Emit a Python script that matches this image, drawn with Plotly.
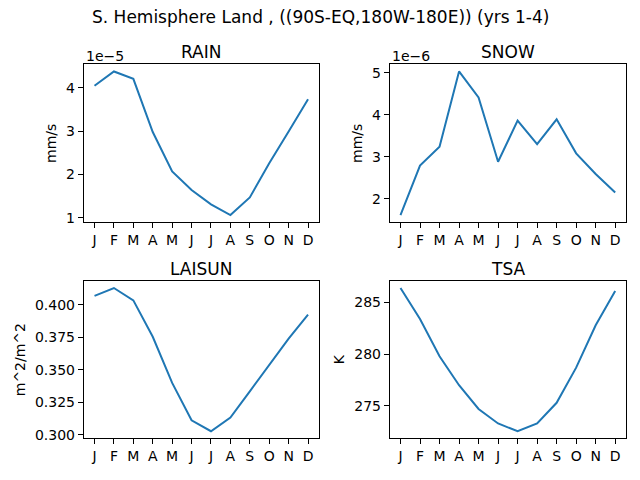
import plotly.graph_objects as go

months = ["J", "F", "M", "A", "M", "J", "J", "A", "S", "O", "N", "D"]

rain = [4.05e-5, 4.38e-5, 4.21e-5, 2.98e-5, 2.07e-5, 1.64e-5,
        1.31e-5, 1.06e-5, 1.47e-5, 2.26e-5, 2.99e-5, 3.74e-5]
snow = [1.61e-6, 2.79e-6, 3.24e-6, 5.03e-6, 4.41e-6, 2.88e-6,
        3.86e-6, 3.30e-6, 3.89e-6, 3.08e-6, 2.59e-6, 2.15e-6]
laisun = [0.4069, 0.4130, 0.4035, 0.3755, 0.3400, 0.3112,
          0.3028, 0.3133, 0.3335, 0.3535, 0.3740, 0.3925]
tsa = [286.4, 283.4, 279.8, 277.0, 274.7, 273.3,
       272.55, 273.3, 275.3, 278.7, 282.8, 286.1]

rain_ticks = [1, 2, 3, 4]
snow_ticks = [2, 3, 4, 5]
lai_ticks = [0.300, 0.325, 0.350, 0.375, 0.400]
tsa_ticks = [275, 280, 285]

FONT = "DejaVu Sans"
BLUE = "#1f77b4"


def pad(v):
    lo, hi = min(v), max(v)
    m = (hi - lo) * 0.05
    return [lo - m, hi + m]


panels = [
    # name, data, ylabel, tickvals, ticktext, exponent, xdomain, ydomain
    ("RAIN", rain, "mm/s", [t * 1e-5 for t in rain_ticks], [str(t) for t in rain_ticks], "1e\u22125",
     [0.131, 0.498], [0.533, 0.865]),
    ("SNOW", snow, "mm/s", [t * 1e-6 for t in snow_ticks], [str(t) for t in snow_ticks], "1e\u22126",
     [0.609, 0.978], [0.533, 0.865]),
    ("LAISUN", laisun, "m^2/m^2", lai_ticks, ["%.3f" % t for t in lai_ticks], None,
     [0.131, 0.498], [0.079, 0.410]),
    ("TSA", tsa, "K", tsa_ticks, [str(t) for t in tsa_ticks], None,
     [0.609, 0.978], [0.079, 0.410]),
]

fig = go.Figure()
annotations = []
layout = {}
for i, (name, vals, ylab, tv, tt, expo, xd, yd) in enumerate(panels):
    n = "" if i == 0 else str(i + 1)
    fig.add_trace(go.Scatter(x=list(range(12)), y=vals, mode="lines",
                             line=dict(color=BLUE, width=2),
                             xaxis="x" + n, yaxis="y" + n, showlegend=False))
    axcommon = dict(showline=True, mirror=True, linecolor="black", linewidth=1,
                    ticks="outside", ticklen=5, tickwidth=1, tickcolor="black",
                    showgrid=False, zeroline=False,
                    tickfont=dict(family=FONT, size=14, color="black"))
    layout["xaxis" + n] = dict(domain=xd, anchor="y" + n, range=[-0.55, 11.55],
                               tickvals=list(range(12)), ticktext=months, **axcommon)
    layout["yaxis" + n] = dict(domain=yd, anchor="x" + n, range=pad(vals),
                               tickvals=tv, ticktext=tt,
                               title=dict(text=ylab, standoff=6,
                                          font=dict(family=FONT, size=14, color="black")),
                               **axcommon)
    annotations.append(dict(text=name, x=(xd[0] + xd[1]) / 2, y=yd[1], xref="paper", yref="paper",
                            xanchor="center", yanchor="bottom", yshift=0, showarrow=False,
                            font=dict(family=FONT, size=17, color="black")))
    if expo:
        annotations.append(dict(text=expo, x=xd[0], y=yd[1], xref="paper", yref="paper",
                                xanchor="left", yanchor="bottom", yshift=-2, showarrow=False,
                                font=dict(family=FONT, size=14, color="black")))

annotations.append(dict(text="S. Hemisphere Land , ((90S-EQ,180W-180E)) (yrs 1-4)",
                        x=0.5, y=1 - 17 / 480, xref="paper", yref="paper",
                        xanchor="center", yanchor="middle", showarrow=False,
                        font=dict(family=FONT, size=17, color="black")))

fig.update_layout(width=640, height=480, margin=dict(l=0, r=0, t=0, b=0),
                  paper_bgcolor="white", plot_bgcolor="white",
                  annotations=annotations, **layout)
fig.write_html("out.html", config={"displayModeBar": False},
               post_script="document.body.style.margin='0';")
